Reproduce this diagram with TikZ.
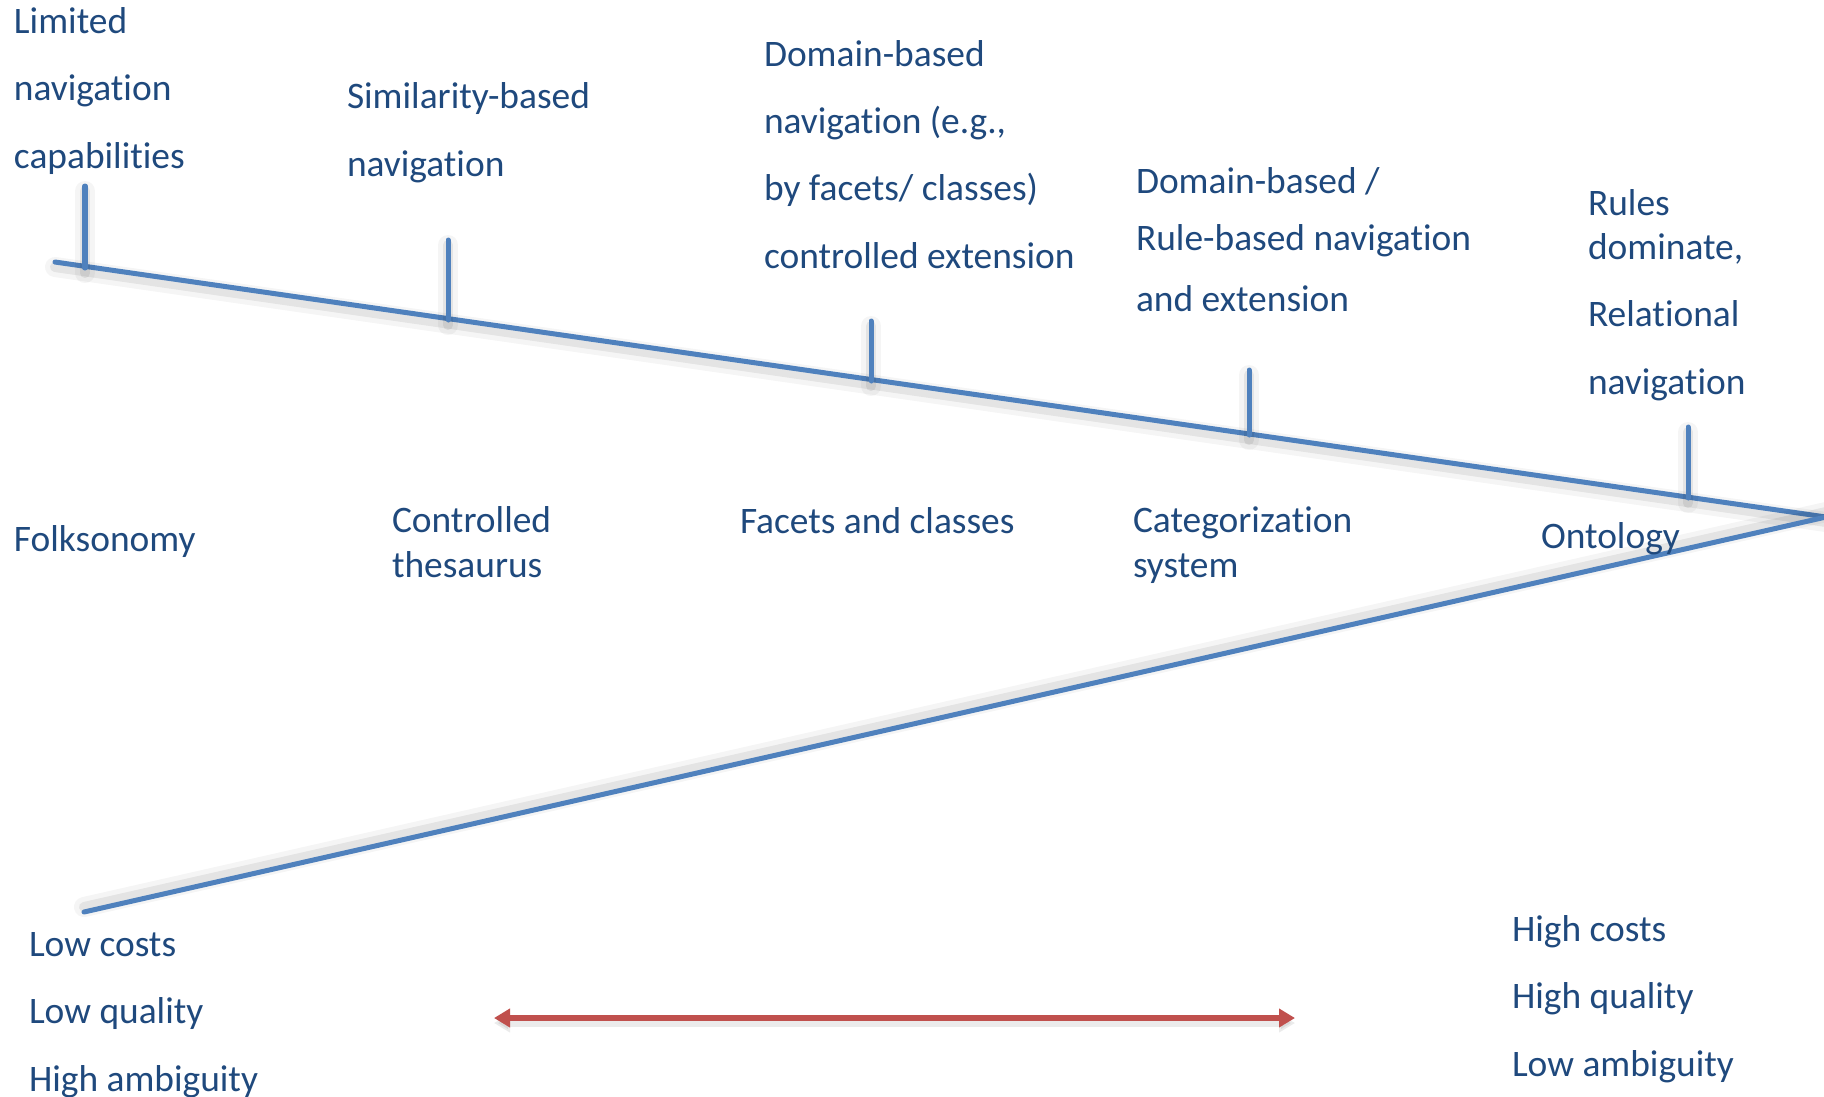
\documentclass[tikz,border=0pt]{standalone}
\usepackage{fontspec}
\setmainfont{Carlito}[Ligatures={NoCommon}]
\usetikzlibrary{arrows.meta}
\definecolor{axisblue}{HTML}{4F81BD}
\definecolor{labelblue}{HTML}{1F497D}
\definecolor{rangered}{HTML}{C0504D}
\tikzset{
  axisline/.style={draw=axisblue, line width=0.05cm, line cap=round},
  shadowbelow/.style={
    preaction={draw=black, draw opacity=0.04, line width=0.2cm, line cap=round, transform canvas={yshift=-0.05cm}},
    preaction={draw=black, draw opacity=0.07, line width=0.1cm, line cap=round, transform canvas={yshift=-0.05cm}}},
  shadowabove/.style={
    preaction={draw=black, draw opacity=0.04, line width=0.2cm, line cap=round, transform canvas={yshift=0.05cm}},
    preaction={draw=black, draw opacity=0.07, line width=0.1cm, line cap=round, transform canvas={yshift=0.05cm}}},
  txt/.style={anchor=base west, inner sep=0pt, outer sep=0pt, align=left,
    text=labelblue, font=\fontsize{0.374cm}{0.67cm}\selectfont},
  tighttxt/.style={txt, font=\fontsize{0.374cm}{0.44cm}\selectfont},
  rangetip/.tip={Triangle[length=0.16cm,width=0.18cm]},
  rangearrow/.style={draw=rangered, line width=0.06cm, {rangetip}-{rangetip}},
}
\begin{document}
\begin{tikzpicture}[x=0.01cm, y=-0.01cm]
\path[use as bounding box] (0,0) rectangle (1824,1096);

% the two arms of the wedge
\coordinate (apex) at (1826,517);
\coordinate (topstart) at (55,262);
\coordinate (botstart) at (84,912);
\draw[axisline, shadowbelow] (topstart) -- (apex);
\draw[axisline, shadowabove] (botstart) -- (apex);

% ticks on the upper arm
\coordinate (t1) at (85,186);   \coordinate (f1) at (85,268);
\coordinate (t2) at (448,240);  \coordinate (f2) at (448,320);
\coordinate (t3) at (871,321);  \coordinate (f3) at (871,381);
\coordinate (t4) at (1249,370); \coordinate (f4) at (1249,435);
\coordinate (t5) at (1688,427); \coordinate (f5) at (1688,498);
\foreach \i in {1,...,5}{
  \draw[axisline, shadowbelow] (t\i) -- (f\i);
}

% navigation texts above the ticks (placed by their last baseline)
\node[txt] (nav1) at (14,168) {Limited\\navigation\\capabilities};
\node[txt] (nav2) at (347,176) {Similarity-based\\navigation};
\node[txt] (nav3) at (764,268) {Domain-based\\navigation (e.g.,\\by facets/ classes)\\controlled extension};
\node[txt, font=\fontsize{0.374cm}{0.57cm}\selectfont] (nav4) at (1136,311) {Domain-based /\\Rule-based navigation\\[0.035cm]and extension};
\node[txt] (nav5) at (1588,394) {Rules\\[-0.23cm]dominate,\\Relational\\navigation};

% kinds of vocabulary
\node[txt] (k1) at (14,551) {Folksonomy};
\node[tighttxt] (k2) at (392,577) {Controlled\\thesaurus};
\node[txt] (k3) at (740,533) {Facets and classes};
\node[tighttxt] (k4) at (1133,577) {Categorization\\system};
\node[txt] (k5) at (1541,548) {Ontology};

% the two ends of the scale
\node[txt] (lowend) at (29,1091) {Low costs\\Low quality\\High ambiguity};
\node[txt] (highend) at (1512,1076) {High costs\\High quality\\Low ambiguity};

% range arrow
\coordinate (rl) at (494,1018);
\coordinate (rr) at (1295,1018);
\draw[rangearrow, preaction={draw=black, opacity=0.08, line width=0.08cm, transform canvas={yshift=-0.05cm}}] (rl) -- (rr);
\end{tikzpicture}
\end{document}
